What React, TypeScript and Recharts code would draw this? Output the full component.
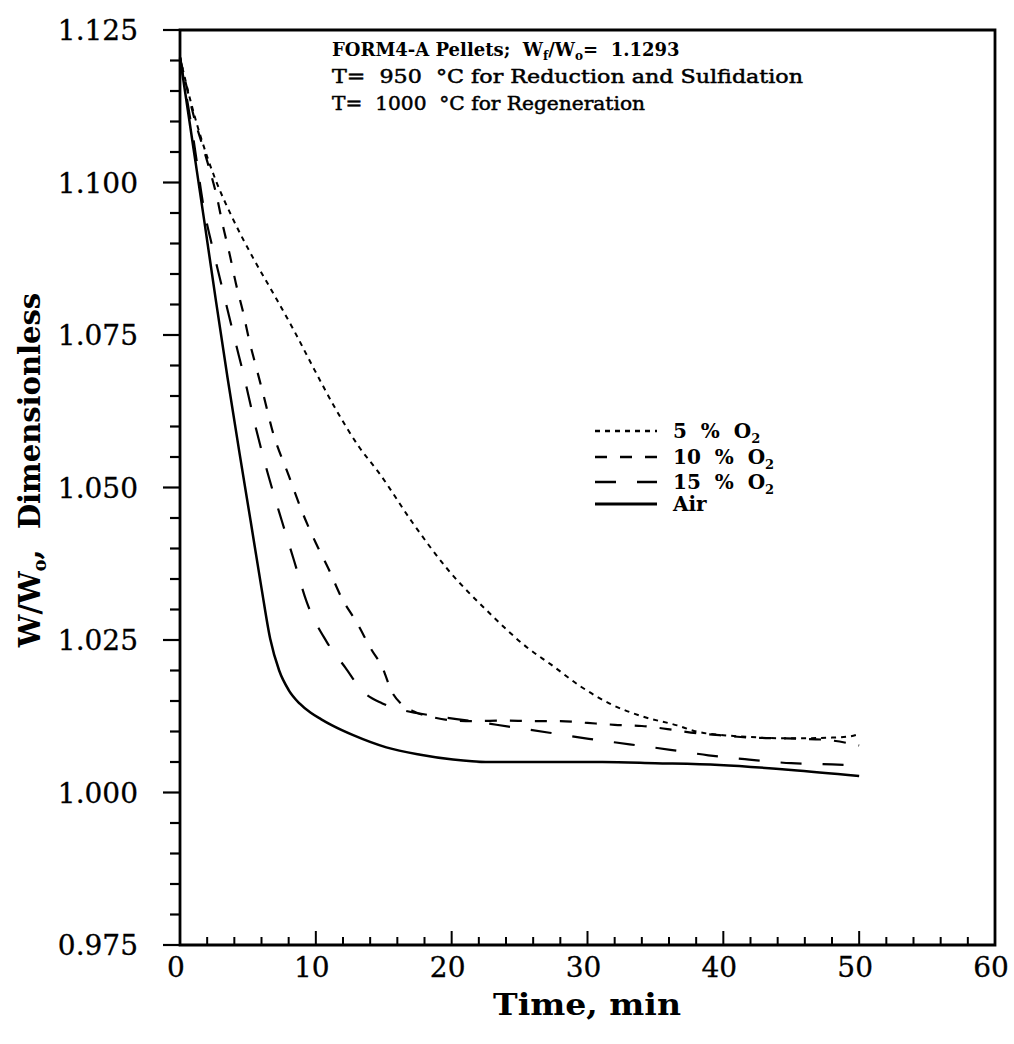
import React from 'react';
import { LineChart, Line, XAxis, YAxis, ReferenceArea, Legend } from 'recharts';

const FONT = '"DejaVu Serif", "Liberation Serif", serif';

// ---- data (time in min, W/Wo) ----
const tAir = [0, 1, 1.8, 2.66, 3.5, 4.37, 5.2, 6, 6.64, 7.3, 8, 8.8, 9.6, 10.4, 11.2, 12.75, 15.19, 17.7, 20.1, 22.5, 26, 31.1, 35, 39.7, 45, 50];
const vAir = [1.1205, 1.1055, 1.0935, 1.0804, 1.068, 1.0558, 1.0445, 1.0335, 1.0252, 1.02, 1.0168, 1.0146, 1.0131, 1.012, 1.011, 1.0094, 1.0074, 1.0062, 1.0054, 1.005, 1.005, 1.005, 1.0048, 1.0045, 1.0037, 1.0027];

const t15 = [0, 1, 1.74, 2.45, 3.23, 4.02, 4.8, 5.58, 6.5, 7.5, 8.4, 9.3, 10.8, 12.2, 13.4, 14.9, 16.4, 18.6, 21.5, 24.2, 27.2, 30.1, 33.1, 36.1, 38.9, 41.9, 45, 48, 50];
const v15 = [1.1205, 1.107, 1.096, 1.0888, 1.0816, 1.0744, 1.0674, 1.0598, 1.052, 1.0445, 1.038, 1.0314, 1.0247, 1.0204, 1.0167, 1.0146, 1.0135, 1.0126, 1.0117, 1.0108, 1.0098, 1.0088, 1.0079, 1.007, 1.0061, 1.0054, 1.0048, 1.0046, 1.0044];

const t10 = [0, 1, 2, 2.73, 3.13, 3.65, 4.12, 4.65, 5.1, 5.67, 6.21, 6.78, 8, 9.05, 10, 10.95, 11.9, 13, 14.1, 14.9, 15.6, 16.3, 17.3, 18.5, 20.1, 21.7, 23.9, 25.9, 28, 30, 32, 34, 35.9, 38.1, 39.7, 41.9, 43.8, 45.8, 47.7, 50];
const v10 = [1.1205, 1.111, 1.1035, 1.0975, 1.0932, 1.0883, 1.0834, 1.0787, 1.0741, 1.0692, 1.0646, 1.0595, 1.052, 1.0457, 1.0409, 1.0366, 1.0319, 1.0279, 1.0234, 1.0205, 1.0165, 1.0145, 1.0132, 1.0124, 1.0118, 1.0117, 1.0118, 1.0117, 1.0117, 1.0114, 1.0111, 1.0109, 1.0104, 1.0097, 1.0094, 1.009, 1.0089, 1.0088, 1.0086, 1.0077];

const t5 = [0, 1, 2.05, 2.59, 3.88, 5.39, 6.9, 8.4, 9.92, 11.4, 13.2, 14.65, 17.1, 19.7, 22.65, 25.6, 27.3, 29.55, 31.8, 34, 36.6, 38, 40, 42, 44, 46, 48, 49.3, 50];
const v5 = [1.1205, 1.1115, 1.1039, 1.1006, 1.0941, 1.0876, 1.0817, 1.0757, 1.0692, 1.0631, 1.0566, 1.0524, 1.0443, 1.0366, 1.0297, 1.0237, 1.021, 1.0173, 1.0144, 1.0125, 1.011, 1.01, 1.0094, 1.0091, 1.0089, 1.0089, 1.009, 1.0092, 1.0096];

// ---- ticks ----
const xTicks = [0, 2, 4, 6, 8, 10, 12, 14, 16, 18, 20, 22, 24, 26, 28, 30, 32, 34, 36, 38, 40, 42, 44, 46, 48, 50, 52, 54, 56, 58, 60];
const xMajor = [0, 10, 20, 30, 40, 50, 60];
const yTicks = [0.975, 0.98, 0.985, 0.99, 0.995, 1.0, 1.005, 1.01, 1.015, 1.02, 1.025, 1.03, 1.035, 1.04, 1.045, 1.05, 1.055, 1.06, 1.065, 1.07, 1.075, 1.08, 1.085, 1.09, 1.095, 1.1, 1.105, 1.11, 1.115, 1.12, 1.125];
const yMajor = [0.975, 1.0, 1.025, 1.05, 1.075, 1.1, 1.125];

const seriesNames = ['5 % O', '10 % O', '15 % O', 'Air'];
const seriesSubs = ['2', '2', '2', ''];

const toRows = (t: number[], v: number[]) => t.map((x, i) => ({ t: x, v: v[i] }));

const series = [
  { key: 's5', name: seriesNames[0], sub: seriesSubs[0], data: toRows(t5, v5), dash: '5 5', w: 2 },
  { key: 's10', name: seriesNames[1], sub: seriesSubs[1], data: toRows(t10, v10), dash: '12 13', w: 2.2 },
  { key: 's15', name: seriesNames[2], sub: seriesSubs[2], data: toRows(t15, v15), dash: '21 21', w: 2.2 },
  { key: 'air', name: seriesNames[3], sub: seriesSubs[3], data: toRows(tAir, vAir), dash: undefined, w: 2.5 },
];

const YTick = (props: any) => {
  const { x, y, payload } = props;
  const v = payload.value;
  const major = yMajor.includes(v);
  return (
    <g>
      <line x1={x - (major ? 17 : 10)} y1={y} x2={x} y2={y} stroke="#000" strokeWidth={2.2} />
      {major && (
        <text x={x - 42} y={y + 10} textAnchor="end" fontFamily={FONT} fontSize={28} fill="#000" stroke="#000" strokeWidth={0.3}>
          {v.toFixed(3)}
        </text>
      )}
    </g>
  );
};

const XTick = (props: any) => {
  const { x, y, payload } = props;
  const v = payload.value;
  const major = xMajor.includes(v);
  return (
    <g>
      <line x1={x} y1={y} x2={x} y2={y - (major ? 14 : 8)} stroke="#000" strokeWidth={2} />
      {major && (
        <text x={x - 4} y={y + 32} textAnchor="middle" fontFamily={FONT} fontSize={28} fill="#000" stroke="#000" strokeWidth={0.3}>
          {String(v)}
        </text>
      )}
    </g>
  );
};

const LegendContent = () => {
  const rowY = [13, 39, 64, 86];
  return (
    <svg width={220} height={100} style={{ overflow: 'visible' }}>
      {series.map((s, i) => (
        <g key={s.key}>
          <line x1={7} y1={rowY[i]} x2={69} y2={rowY[i]} stroke="#000" strokeWidth={s.w + 0.4} strokeDasharray={s.dash} />
          <text x={85} y={rowY[i] + 7} fontFamily={FONT} fontWeight="bold" fontSize={20} fill="#000" style={{ whiteSpace: 'pre' }}>
            {s.name.replace(/ /g, '  ')}
            {s.sub && (
              <tspan fontSize={13} dy={5}>{s.sub}</tspan>
            )}
          </text>
        </g>
      ))}
    </svg>
  );
};

export default function App() {
  return (
    <div style={{ position: 'absolute', left: 0, top: 0, width: 1014, height: 1044, background: '#fff' }}>
      <LineChart width={1014} height={1044} margin={{ top: 30, right: 19, left: 120, bottom: 59 }}>
        <XAxis
          dataKey="t"
          type="number"
          domain={[0, 60]}
          ticks={xTicks}
          interval={0}
          axisLine={false}
          tickLine={false}
          tickSize={0}
          tickMargin={0}
          height={40}
          tick={<XTick />}
          allowDuplicatedCategory={false}
        />
        <YAxis
          type="number"
          domain={[0.975, 1.125]}
          ticks={yTicks}
          interval={0}
          axisLine={false}
          tickLine={false}
          tickSize={0}
          tickMargin={0}
          width={60}
          tick={<YTick />}
          allowDataOverflow
        />
        <ReferenceArea x1={0} x2={60} y1={0.975} y2={1.125} fill="none" fillOpacity={0} stroke="#000" strokeWidth={2.8} ifOverflow="visible" />
        {series.map((s) => (
          <Line
            key={s.key}
            data={s.data}
            dataKey="v"
            name={s.name}
            type="monotone"
            stroke="#000"
            strokeWidth={s.w}
            strokeDasharray={s.dash}
            dot={false}
            activeDot={false}
            isAnimationActive={false}
          />
        ))}
        <Legend
          layout="vertical"
          align="center"
          verticalAlign="middle"
          wrapperStyle={{ left: 588, top: 418, width: 220, height: 100 }}
          content={<LegendContent />}
        />
      </LineChart>
      <svg width={1014} height={1044} style={{ position: 'absolute', left: 0, top: 0, pointerEvents: 'none' }}>
        <text x={332} y={56} fontFamily={FONT} fontWeight="bold" fontSize={18} fill="#000" style={{ whiteSpace: 'pre' }}>
          FORM4-A Pellets;  W<tspan fontSize={12} dy={4}>f</tspan><tspan dy={-4}>/W</tspan><tspan fontSize={12} dy={4}>o</tspan><tspan dy={-4}>=  1.1293</tspan>
        </text>
        <text x={332} y={83} fontFamily={FONT} fontSize={19} fill="#000" stroke="#000" strokeWidth={0.5} textLength={471} lengthAdjust="spacingAndGlyphs" style={{ whiteSpace: 'pre' }}>
          {'T=  950  °C for Reduction and Sulfidation'}
        </text>
        <text x={332} y={110} fontFamily={FONT} fontSize={19} fill="#000" stroke="#000" strokeWidth={0.5} textLength={313} lengthAdjust="spacingAndGlyphs" style={{ whiteSpace: 'pre' }}>
          {'T=  1000  °C for Regeneration'}
        </text>
        <text x={587} y={1015} textAnchor="middle" fontFamily={FONT} fontWeight="bold" fontSize={30} fill="#000" textLength={188} lengthAdjust="spacingAndGlyphs">
          Time, min
        </text>
        <text transform="translate(40,470) rotate(-90)" textAnchor="middle" fontFamily={FONT} fontWeight="bold" fontSize={29} fill="#000" style={{ whiteSpace: 'pre' }}>
          W/W<tspan fontSize={18} dy={6}>o</tspan><tspan dy={-6}>,  Dimensionless</tspan>
        </text>
      </svg>
    </div>
  );
}
